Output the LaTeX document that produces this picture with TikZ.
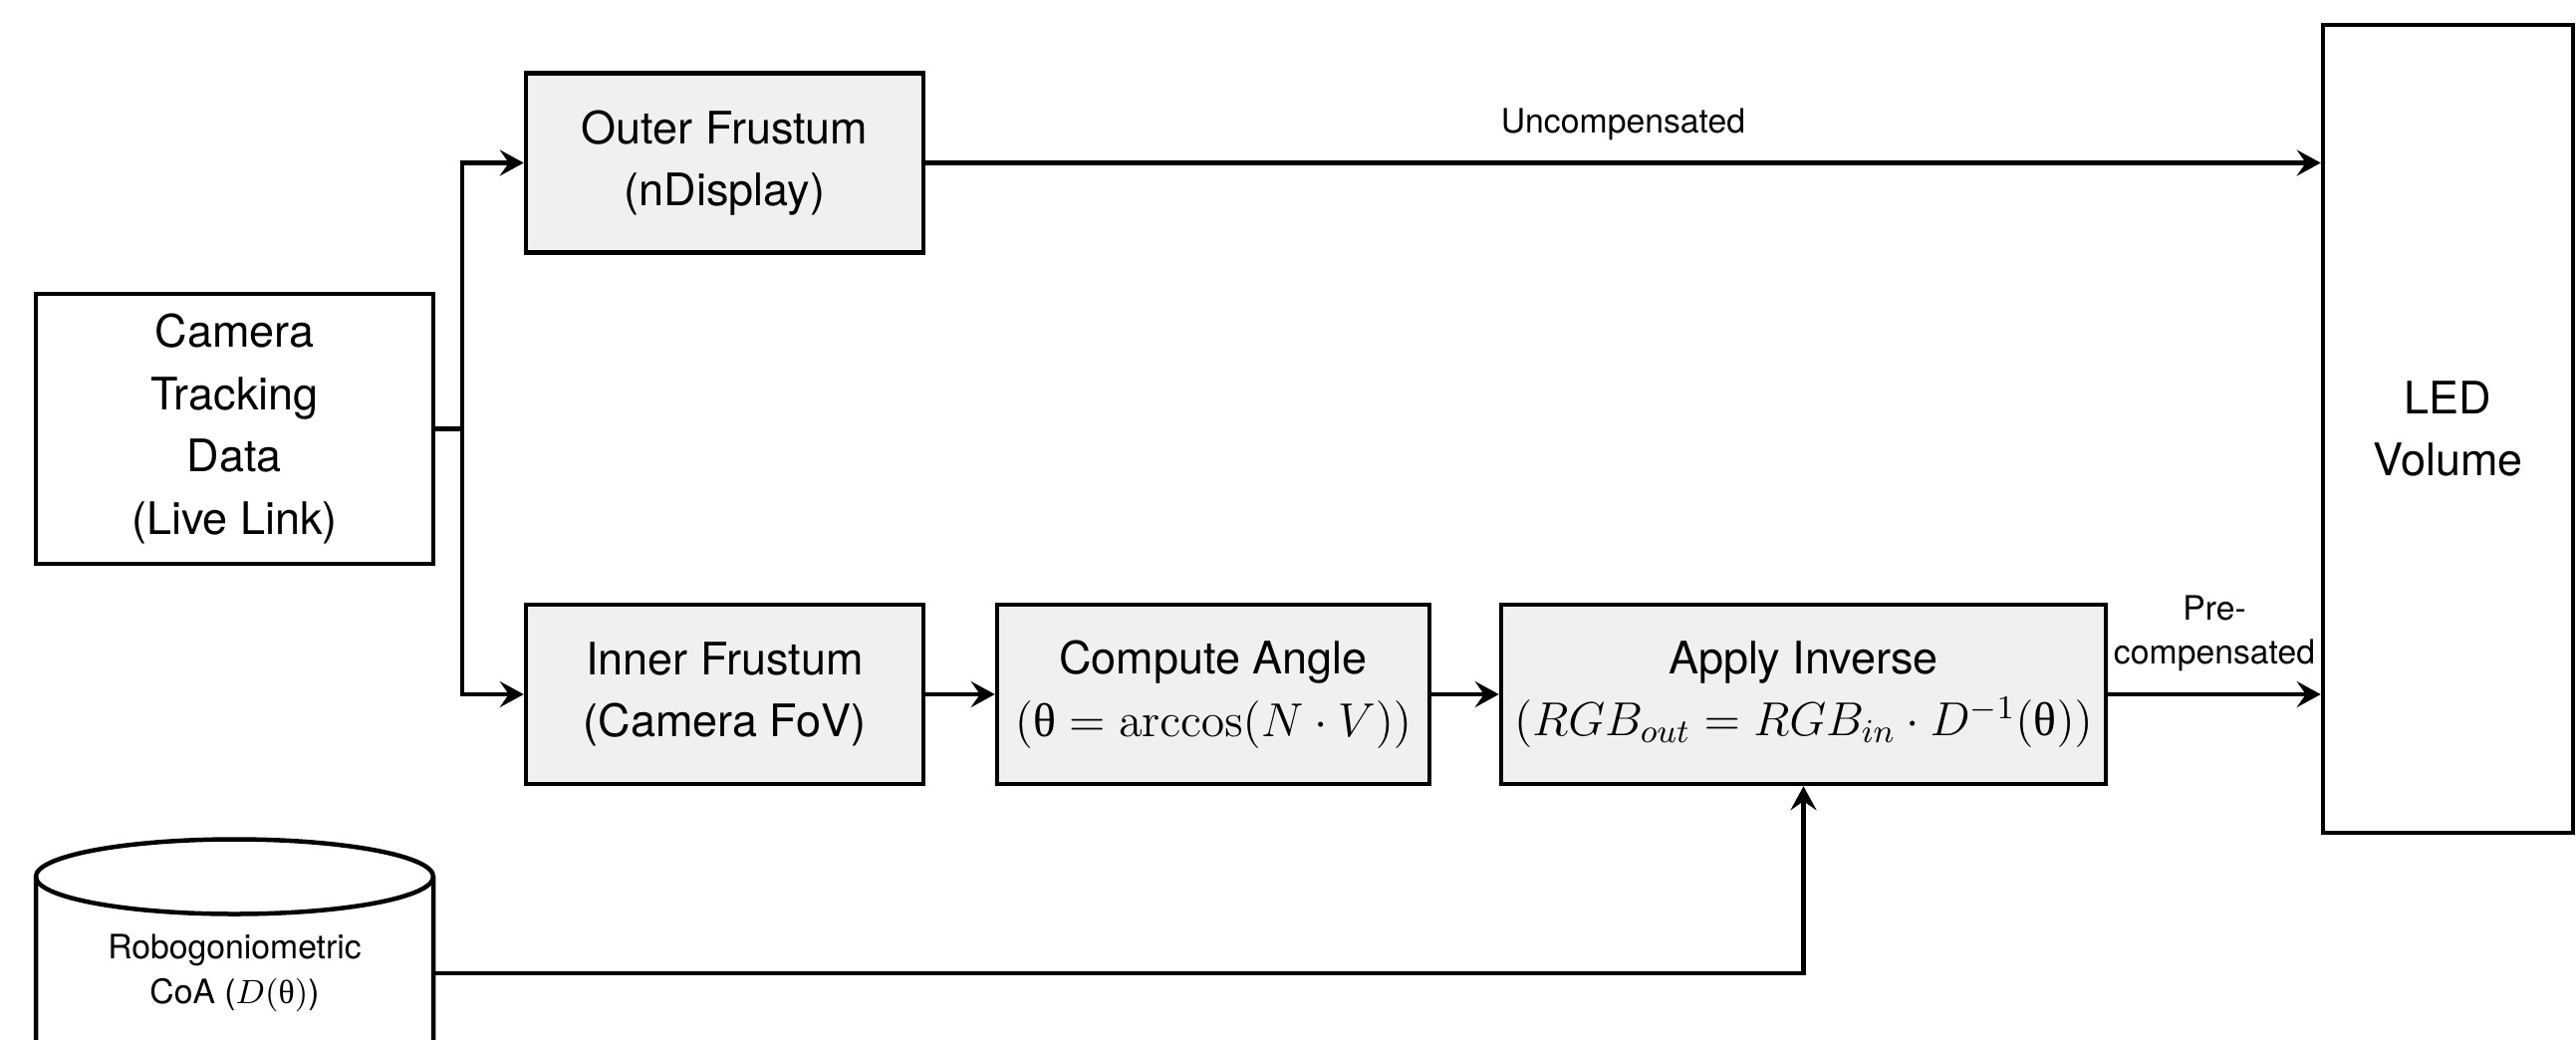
\RequirePackage{fix-cm}
\documentclass[tikz,border=0pt]{standalone}
\usepackage[no-math]{fontspec}
\setmainfont{TeX Gyre Heros}
\newfontfamily\grfont{Liberation Serif}
\usetikzlibrary{arrows.meta}
\definecolor{boxgray}{HTML}{F0F0F0}
\newcommand{\thangle}{\mbox{\grfont θ}}
\newcommand{\mathline}[1]{{\fontsize{13.6}{17.8}\selectfont$#1$}}

\begin{document}
\begin{tikzpicture}[x=0.1mm, y=-0.1mm,
  block/.style={draw=black, line width=0.45mm, fill=boxgray, align=center, inner sep=0pt,
    minimum height=18mm, font={\fontsize{12.8}{17.8}\selectfont}},
  plain/.style={block, fill=white},
  lbl/.style={inner sep=0pt, align=center, font={\fontsize{9.6}{12.6}\selectfont}},
  flow/.style={line width=0.42mm, -{Stealth[length=2.4mm, width=2.6mm, inset=0.9mm]}}]
% Frame
\useasboundingbox (0,0) rectangle (2586,1043);
\clip (0,0) rectangle (2586,1043);

% Blocks
\node[plain, minimum width=39.9mm, minimum height=27.1mm] (cam) at (235.5,430.5) {Camera\\Tracking\\Data\\(Live Link)};
\node[block, minimum width=39.9mm] (outer) at (727.5,163.5) {Outer Frustum\\(nDisplay)};
\node[block, minimum width=39.9mm] (inner) at (727.5,697) {Inner Frustum\\(Camera FoV)};
\node[block, minimum width=43.4mm] (angle) at (1218,697) {Compute Angle\\\mathline{(\thangle = \arccos\bigl(N\cdot V\bigr))}};
\node[block, minimum width=60.7mm] (apply) at (1810.5,697) {Apply Inverse\\\mathline{(RGB_{out} = RGB_{in}\cdot D^{-1}\bigl(\thangle\bigr))}};
\node[plain, minimum width=25.1mm, minimum height=81.1mm] (led) at (2457.5,430.5) {LED\\Volume};

% Database
\draw[line width=0.45mm, fill=white] (36,880) -- (36,1075)
  arc[start angle=180, end angle=360, x radius=19.95mm, y radius=3.75mm] -- (435,880)
  arc[start angle=0, end angle=180, x radius=19.95mm, y radius=3.75mm] -- cycle;
\draw[line width=0.45mm] (36,880) arc[start angle=180, end angle=360, x radius=19.95mm, y radius=3.75mm];
\node[lbl, minimum width=39.9mm, minimum height=27mm] (coa) at (235.5,977) {Robogoniometric\\CoA ($D(\thangle)$)};

% Links
\draw[flow] (cam.east) -- ++(27,0) |- (outer.west);
\draw[flow] (cam.east) -- ++(27,0) |- (inner.west);
\draw[flow] (outer.east) -- (outer.east -| led.west) node[lbl, midway, above=2.1mm] {Uncompensated};
\draw[flow] (inner.east) -- (angle.west);
\draw[flow] (angle.east) -- (apply.west);
\draw[flow] (apply.east) -- (apply.east -| led.west) node[lbl, midway, above=2.1mm] {Pre-\\compensated};
\draw[flow] (coa.east) -| (apply.south);
\end{tikzpicture}
\end{document}
